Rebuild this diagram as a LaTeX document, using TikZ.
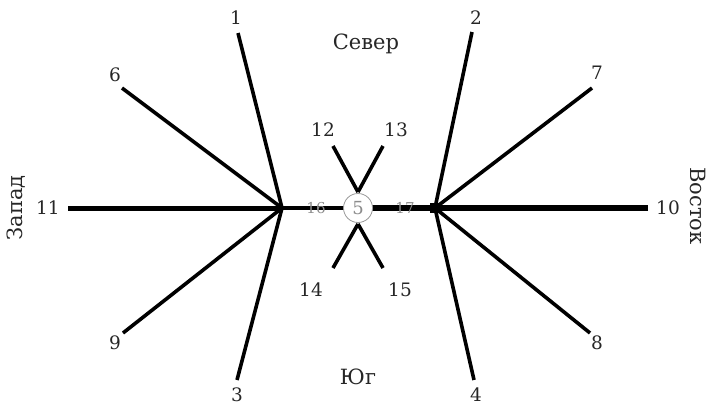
\documentclass[tikz,border=0pt]{standalone}
\usepackage{fontspec}
\setmainfont{DejaVu Serif}
\begin{document}
\begin{tikzpicture}[x=1pt,y=-1pt,
  lab/.style={font=\fontsize{18.5}{18.5}\selectfont, text=black!85, inner sep=1pt},
  word/.style={font=\fontsize{21}{21}\selectfont, text=black!85, inner sep=1pt},
  ray/.style={line width=3.6pt, black},
  faint/.style={font=\fontsize{15}{15}\selectfont, text=black!45, inner sep=0pt}]
\useasboundingbox (0,0) rectangle (709,407);
% hubs
\coordinate (A) at (282,208);
\coordinate (B) at (435,208);
% end points
\coordinate (e1) at (238,33);
\coordinate (e6) at (122,88);
\coordinate (e11) at (68,208);
\coordinate (e9) at (123,333);
\coordinate (e3) at (237,380);
\coordinate (e2) at (472,32);
\coordinate (e7) at (592,88);
\coordinate (e10) at (648,208);
\coordinate (e8) at (590,333);
\coordinate (e4) at (474,380);
\coordinate (e12) at (333,146);
\coordinate (e13) at (383,146);
\coordinate (e14) at (333,268);
\coordinate (e15) at (383,268);
\coordinate (x1) at (358,192);
\coordinate (x2) at (358,224);
% rays
\draw[ray] (e1) -- (A);
\draw[ray] (e6) -- (A);
\draw[ray] (e9) -- (A);
\draw[ray] (e3) -- (A);
\draw[line width=5pt] (e11) -- (A);
\draw[ray] (e2) -- (B);
\draw[ray] (e7) -- (B);
\draw[ray] (e8) -- (B);
\draw[ray] (e4) -- (B);
\draw[line width=6pt] (e10) -- (B);
\draw[line width=4pt] (A) -- (358,208);
\draw[line width=6pt] (358,208) -- (B);
\draw[ray] (e12) -- (x1);
\draw[ray] (e13) -- (x1);
\draw[ray] (e14) -- (x2);
\draw[ray] (e15) -- (x2);
\node[circle, draw=black!40, line width=0.8pt, minimum size=29pt, inner sep=0pt, fill=white,
      font=\fontsize{18}{18}\selectfont, text=black!45] (c5) at (358,208) {5};
\fill (B) ++(-5,-5) rectangle ++(10,10);
% labels
\node[lab] (l1) at (236,18) {1};
\node[lab] (l6) at (115,75) {6};
\node[lab] (l11) at (48,208) {11};
\node[lab] (l9) at (115,343) {9};
\node[lab] (l3) at (237,395) {3};
\node[lab] (l2) at (476,18) {2};
\node[lab] (l7) at (597,73) {7};
\node[lab] (l10) at (668,208) {10};
\node[lab] (l8) at (597,343) {8};
\node[lab] (l4) at (476,395) {4};
\node[lab] (l12) at (323,130) {12};
\node[lab] (l13) at (396,130) {13};
\node[lab] (l14) at (311,290) {14};
\node[lab] (l15) at (400,290) {15};
\node[faint] (l16) at (316,208) {16};
\node[faint] (l17) at (405,208) {17};
\node[word] (n) at (366,44) {Север};
\node[word] (s) at (358,377) {Юг};
\node[word, rotate=90] (w) at (16,208) {Запад};
\node[word, rotate=-90] (e) at (698,206) {Восток};
\end{tikzpicture}
\end{document}
